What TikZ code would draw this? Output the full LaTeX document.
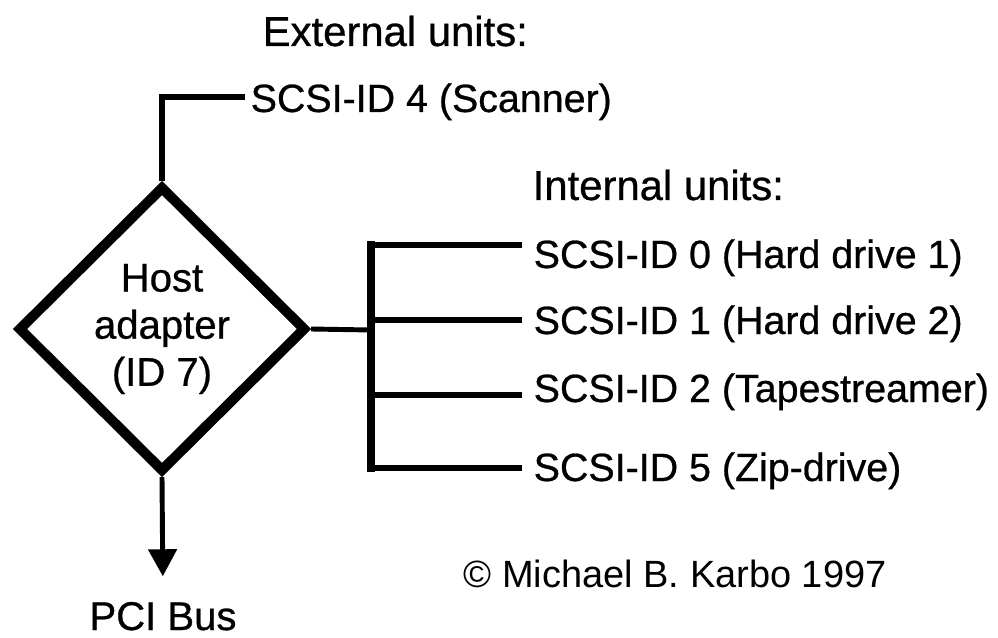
\documentclass[tikz,border=0pt]{standalone}
\usepackage{fontspec}
\setmainfont{Liberation Sans}
\newfontfamily\heavyfont[FakeBold=0.7]{Liberation Sans}
\usetikzlibrary{shapes.geometric, arrows.meta, positioning, calc}

\begin{document}
\begin{tikzpicture}[
    x=0.01cm, y=-0.01cm,
    hub/.style={diamond,draw,line width=2.85pt,minimum width=2.88cm,minimum height=2.86cm,
                inner sep=0pt,align=center,font=\heavyfont\fontsize{11.4}{13.4}\selectfont},
    wire/.style={line width=1.7pt},
    bus/.style={line width=2pt,line cap=rect},
    unit/.style={anchor=base west,inner sep=0pt,font=\heavyfont\fontsize{11.2}{13}\selectfont},
    head/.style={anchor=base west,inner sep=0pt,font=\heavyfont\fontsize{11.9}{14}\selectfont},
    feed/.style={line width=1.4pt,-{Triangle[width=0.28cm,length=0.27cm]}}
]

\useasboundingbox (0,0) rectangle (998,637);

% Host adapter
\node[hub] (host) at (162,329) {Host\\adapter\\(ID 7)};

% External units
\node[head] (ext) at (262,46) {External units:};
\node[unit] (scan) at (250,112) {SCSI-ID 4 (Scanner)};
\coordinate (corner) at (162,97);
\draw[wire] (host.north) -- (corner) -- ([xshift=-0.05cm]corner -| scan.west);

% Internal units
\node[head] (int) at (532,200) {Internal units:};
\node[unit] (hd0) at (533,268) {SCSI-ID 0 (Hard drive 1)};
\node[unit] (hd1) at (533,334) {SCSI-ID 1 (Hard drive 2)};
\node[unit] (tape) at (533,402) {SCSI-ID 2 (Tapestreamer)};
\node[unit] (zip) at (533,481) {SCSI-ID 5 (Zip-drive)};

\coordinate (tap) at (371,330);
\coordinate (b0) at (371,245);
\coordinate (b1) at (371,320);
\coordinate (b2) at (371,395);
\coordinate (b3) at (371,468);

\draw[wire,line width=1.4pt] (host.east) -- (tap);
\draw[bus] (b0) -- (b3);
\foreach \i/\n in {0/hd0,1/hd1,2/tape,3/zip}
    \draw[wire] (b\i) -- ([xshift=-0.11cm]b\i -| \n.west);

% PCI bus
\node[anchor=base,inner sep=0pt,font=\heavyfont\fontsize{11.4}{13}\selectfont] (pci) at (163,630) {PCI Bus};
\draw[feed,shorten >=0.25cm] (host.south) -- (pci.north);

% credit
\node[anchor=base west,inner sep=0pt,font=\fontsize{10.8}{13}\selectfont] (credit) at (463,587) {© Michael B. Karbo 1997};

\end{tikzpicture}
\end{document}
